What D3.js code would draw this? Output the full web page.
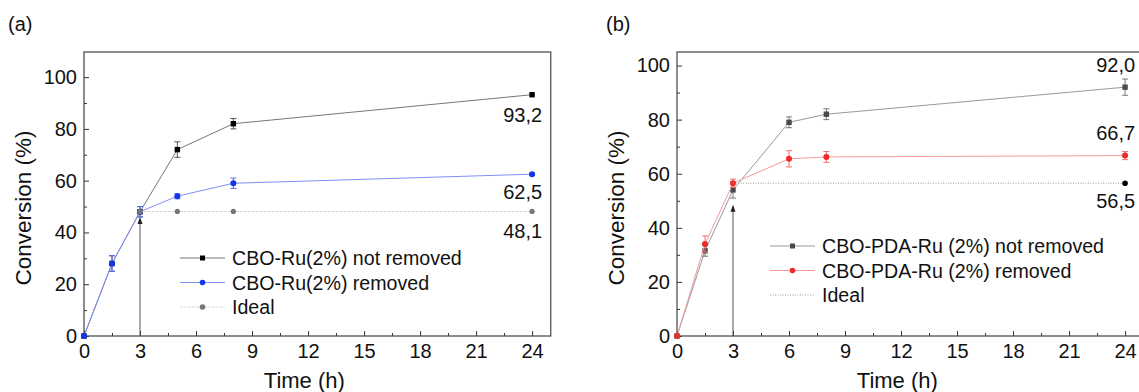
<!DOCTYPE html>
<html>
<head>
<meta charset="utf-8">
<script src="https://cdn.jsdelivr.net/npm/d3@7"></script>
<style>
  body { margin: 0; background: #fff; }
  svg { display: block; font-family: "Liberation Sans", Arial, sans-serif; }
  .domain { display: none; }
  .tick line { stroke: #333; }
  .tick text { fill: #111; font-size: 20px; }
</style>
</head>
<body>
<svg id="chart" width="1139" height="392"></svg>
<script>
// panel (a)
const timesA = [0, 1.5, 3, 5, 8, 24];
const notRemovedA = [0, 28, 48, 72, 82, 93.2];
const notRemovedErrA = [0, 3, 2, 3, 2, 0];
const removedA = [0, 28, 48, 54, 59, 62.5];
const removedErrA = [0, 3, 2, 1, 2, 0.5];
const idealTimesA = [3, 5, 8, 24];
const idealA = [48.1, 48.1, 48.1, 48.1];

// panel (b)
const timesB = [0, 1.5, 3, 6, 8, 24];
const notRemovedB = [0, 31.5, 54, 79, 82, 92.0];
const notRemovedErrB = [0, 2, 3, 2, 2, 3];
const removedB = [0, 34, 56.5, 65.5, 66.2, 66.7];
const removedErrB = [0, 3, 1.5, 3, 2, 1.5];
const idealTimesB = [3, 24];
const idealB = [56.5, 56.5];

const xTicks = [0, 3, 6, 9, 12, 15, 18, 21, 24];
const yTicks = [0, 20, 40, 60, 80, 100];

const svg = d3.select("#chart");
const pxPerHour = 18.67;

function zip(times, vals, errs) {
    return times.map((t, i) => ({ t: t, v: vals[i], e: errs ? errs[i] : 0 }));
}

function drawPanel(cfg) {
    const w = cfg.xMax * pxPerHour;
    const h = 284;
    const g = svg.append("g").attr("transform", `translate(${cfg.left},52)`);
    const x = d3.scaleLinear().domain([0, cfg.xMax]).range([0, w]);
    const y = d3.scaleLinear().domain([0, cfg.yMax]).range([h, 0]);

    // panel letter
    svg.append("text")
        .attr("x", cfg.left - cfg.letterDx)
        .attr("y", 31)
        .attr("font-size", 20)
        .attr("fill", "#111")
        .text(cfg.letter);

    // axes, ticks inward
    g.append("g")
        .attr("transform", `translate(0,${h})`)
        .call(d3.axisBottom(x).tickValues(xTicks).tickSizeInner(-5).tickSizeOuter(0).tickPadding(8));
    g.append("g")
        .attr("transform", `translate(0,${h})`)
        .call(d3.axisBottom(x).tickValues(xTicks.slice(0, -1).map((d) => d + 1.5)).tickSizeInner(-3).tickSizeOuter(0).tickFormat(""));
    g.append("g")
        .call(d3.axisLeft(y).tickValues(yTicks).tickSizeInner(-5).tickSizeOuter(0).tickPadding(7));
    g.append("g")
        .call(d3.axisLeft(y).tickValues(yTicks.slice(0, -1).map((d) => d + 10)).tickSizeInner(-3).tickSizeOuter(0).tickFormat(""));

    g.append("rect")
        .attr("width", w)
        .attr("height", h)
        .attr("fill", "none")
        .attr("stroke", "#444")
        .attr("stroke-width", 1.2);

    // axis titles
    g.append("text")
        .attr("x", x(11.8))
        .attr("y", h + 52)
        .attr("text-anchor", "middle")
        .attr("font-size", 22)
        .attr("fill", "#111")
        .text("Time (h)");
    g.append("text")
        .attr("transform", `translate(${-cfg.titleDx},${h / 2 + 14}) rotate(-90)`)
        .attr("text-anchor", "middle")
        .attr("font-size", 22.5)
        .attr("fill", "#111")
        .text("Conversion (%)");

    // arrow at 3 h
    g.append("line")
        .attr("x1", x(3)).attr("x2", x(3))
        .attr("y1", y(0)).attr("y2", y(cfg.arrowTop) + 5)
        .attr("stroke", "#555")
        .attr("stroke-width", 1);
    g.append("path")
        .attr("d", `M${x(3)},${y(cfg.arrowTop)} l-2.5,7 l5,0 z`)
        .attr("fill", "#222");

    const line = d3.line().x((d) => x(d.t)).y((d) => y(d.v));

    cfg.series.forEach((s) => {
        const pts = zip(s.times, s.vals, s.errs);
        g.append("path")
            .datum(pts)
            .attr("d", line)
            .attr("fill", "none")
            .attr("stroke", s.line)
            .attr("stroke-width", 1)
            .attr("stroke-dasharray", s.dash || null);

        const eb = g.append("g").attr("stroke", s.errColor || s.line).attr("stroke-width", 1);
        pts.filter((d) => d.e > 0).forEach((d) => {
            eb.append("line").attr("x1", x(d.t)).attr("x2", x(d.t)).attr("y1", y(d.v - d.e)).attr("y2", y(d.v + d.e));
            eb.append("line").attr("x1", x(d.t) - 3).attr("x2", x(d.t) + 3).attr("y1", y(d.v - d.e)).attr("y2", y(d.v - d.e));
            eb.append("line").attr("x1", x(d.t) - 3).attr("x2", x(d.t) + 3).attr("y1", y(d.v + d.e)).attr("y2", y(d.v + d.e));
        });

        const mk = pts.filter((d) => !s.markerOnlyLast || d.t === 24);
        if (s.shape === "square") {
            g.selectAll(null).data(mk).join("rect")
                .attr("x", (d) => x(d.t) - 2.7)
                .attr("y", (d) => y(d.v) - 2.7)
                .attr("width", 5.4)
                .attr("height", 5.4)
                .attr("fill", s.marker);
        } else {
            g.selectAll(null).data(mk).join("circle")
                .attr("cx", (d) => x(d.t))
                .attr("cy", (d) => y(d.v))
                .attr("r", s.r || 3)
                .attr("fill", s.marker);
        }
    });

    // end value labels
    cfg.labels.forEach((l) => {
        g.append("text")
            .attr("x", x(24) + 10)
            .attr("y", y(l.at) + l.dy)
            .attr("text-anchor", "end")
            .attr("font-size", 20)
            .attr("fill", "#111")
            .text(l.text);
    });

    // legend
    const lg = g.append("g").attr("transform", `translate(${cfg.legendX},${cfg.legendY})`);
    cfg.series.forEach((s, i) => {
        const row = lg.append("g").attr("transform", `translate(0,${i * 24.5})`);
        row.append("line")
            .attr("x1", 0).attr("x2", 45)
            .attr("stroke", s.line)
            .attr("stroke-width", 1)
            .attr("stroke-dasharray", s.dash || null);
        if (s.legendMarker !== false) {
            if (s.shape === "square") {
                row.append("rect").attr("x", 20).attr("y", -2.5).attr("width", 5).attr("height", 5).attr("fill", s.marker);
            } else {
                row.append("circle").attr("cx", 22.5).attr("cy", 0).attr("r", 2.8).attr("fill", s.marker);
            }
        }
        row.append("text")
            .attr("x", 52)
            .attr("y", 7)
            .attr("font-size", 19.6)
            .attr("fill", "#111")
            .text(s.name);
    });
}

drawPanel({
    letter: "(a)",
    letterDx: 76,
    left: 84,
    xMax: 25,
    yMax: 109.7,
    titleDx: 53,
    arrowTop: 46,
    legendX: 96,
    legendY: 206,
    series: [
        { name: "CBO-Ru(2%) not removed", times: timesA, vals: notRemovedA, errs: notRemovedErrA, line: "#777", errColor: "#555", marker: "#000", shape: "square" },
        { name: "CBO-Ru(2%) removed", times: timesA, vals: removedA, errs: removedErrA, line: "#7f8ff7", errColor: "#5a6ef0", marker: "#1436e6", shape: "circle" },
        { name: "Ideal", times: idealTimesA, vals: idealA, errs: null, line: "#d8d8d8", dash: "3,1", marker: "#777", shape: "circle", r: 2.6 }
    ],
    labels: [
        { text: "93,2", at: 93.2, dy: 27 },
        { text: "62,5", at: 62.5, dy: 25 },
        { text: "48,1", at: 48.1, dy: 27 }
    ]
});

drawPanel({
    letter: "(b)",
    letterDx: 71,
    left: 677,
    xMax: 24.9,
    yMax: 105,
    titleDx: 53,
    arrowTop: 48.5,
    legendX: 93,
    legendY: 194,
    series: [
        { name: "CBO-PDA-Ru (2%) not removed", times: timesB, vals: notRemovedB, errs: notRemovedErrB, line: "#999", errColor: "#777", marker: "#4a4a4a", shape: "square" },
        { name: "CBO-PDA-Ru (2%) removed", times: timesB, vals: removedB, errs: removedErrB, line: "#f59a9a", errColor: "#f07070", marker: "#ee2a2a", shape: "circle" },
        { name: "Ideal", times: idealTimesB, vals: idealB, errs: null, line: "#999", dash: "1,1.5", marker: "#000", shape: "circle", r: 2.8, markerOnlyLast: true, legendMarker: false }
    ],
    labels: [
        { text: "92,0", at: 92.0, dy: -15 },
        { text: "66,7", at: 66.7, dy: -16 },
        { text: "56,5", at: 56.5, dy: 25 }
    ]
});
</script>
</body>
</html>
